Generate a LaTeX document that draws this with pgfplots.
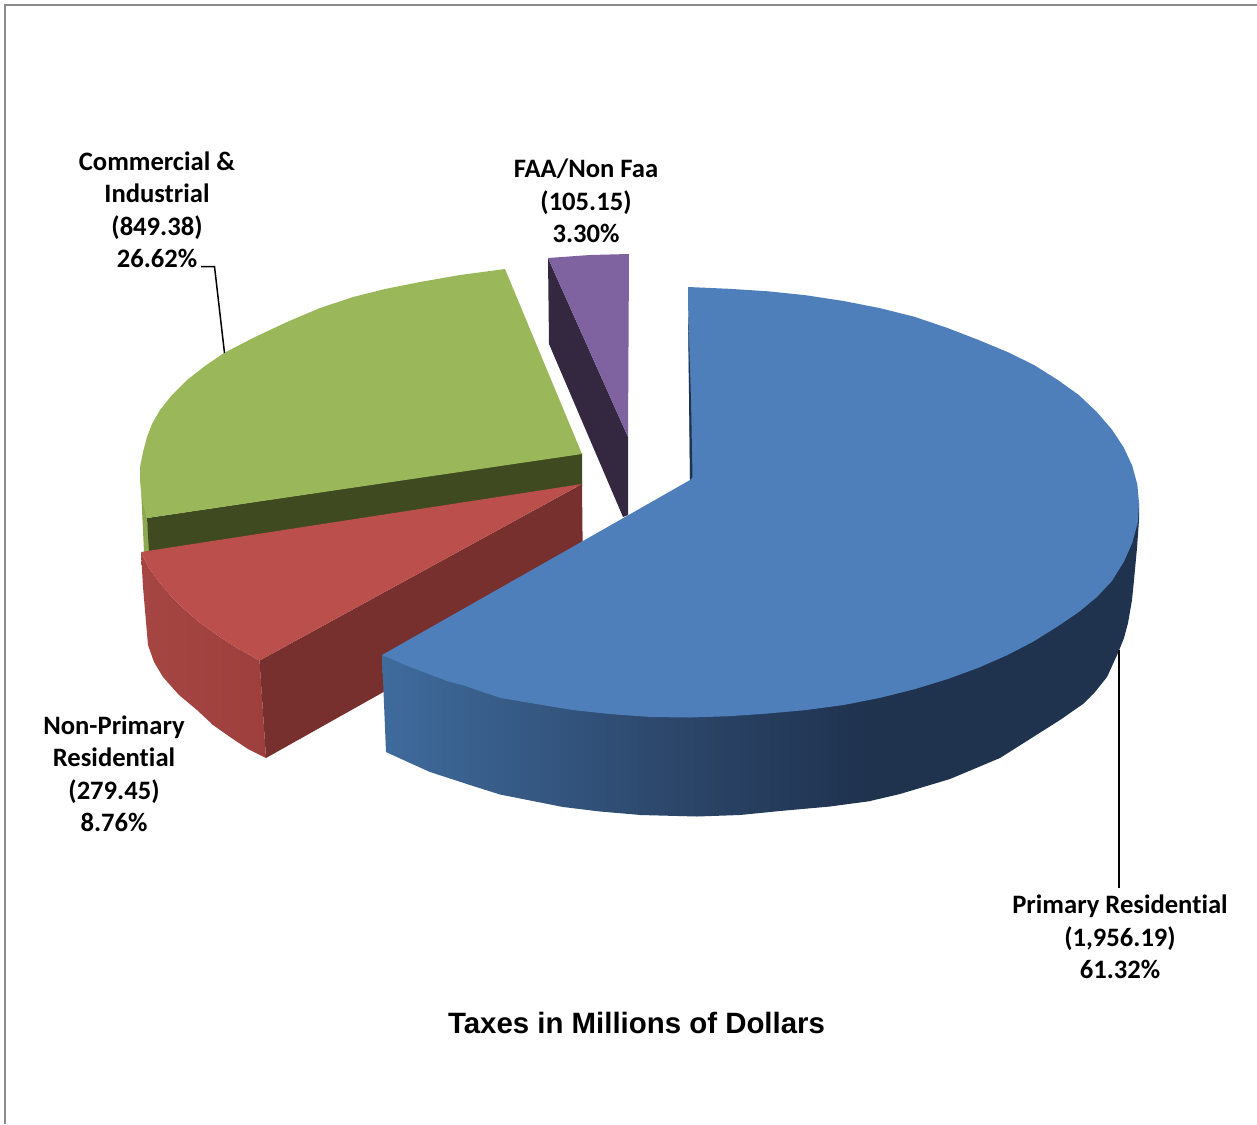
\documentclass[border=0pt]{standalone}
\usepackage{fontspec}
\setmainfont[Ligatures=NoCommon]{Carlito}
\newfontfamily\titlefont{Liberation Sans}
\usepackage{pgfplots}
\pgfplotsset{compat=1.18}
\definecolor{bluetop}{HTML}{4F7FBA}
\definecolor{bluedark}{HTML}{1F324E}
\definecolor{bluemid}{HTML}{2E4A6F}
\definecolor{blueleft}{HTML}{3F6B9D}
\definecolor{greentop}{HTML}{9AB85A}
\definecolor{greenside}{HTML}{404A20}
\definecolor{greenrim}{HTML}{8CA850}
\definecolor{redtop}{HTML}{BB4F4C}
\definecolor{redin}{HTML}{78302E}
\definecolor{redout}{HTML}{A64643}
\definecolor{redoutb}{HTML}{9E3F3D}
\definecolor{purpletop}{HTML}{7F62A0}
\definecolor{purpleside}{HTML}{33283F}
\definecolor{framegray}{HTML}{8C8C8C}
\tikzset{lbl/.style={font=\fontsize{13.3}{16.25}\selectfont\bfseries, align=center, inner sep=0pt}}
\begin{document}
\begin{tikzpicture}
\begin{axis}[
  scale only axis, width=628.5pt, height=562pt,
  xmin=0, xmax=1257, ymin=0, ymax=1124, y dir=reverse,
  hide axis, no markers,
]
% keeps the whole page in the bounding box
\addplot[draw=none] coordinates {(0,0) (1257,1124)};
% frame
\addplot[framegray, line width=1pt] coordinates {(4.5,1124) (4.5,5) (1257,5)};
% green slice
\addplot[fill=greenrim, draw=none] coordinates {(140,467) (141,490) (147,518) (150,552) (144,552)} -- cycle;
\addplot[fill=greenside, draw=none] coordinates {(147,518) (582,453) (582,486) (149,552)} -- cycle;
\addplot[fill=greentop, draw=none] coordinates {
  (582,454) (505,269) (460,275) (420,282) (385,289) (353,297) (320,308) (287,322) (255,337)
  (224,353) (205,366) (187,380) (172,395) (160,410) (152,424) (147,437) (143,452) (140,467)
  (140,480) (141,490) (143,504) (147,518)} -- cycle;
% purple slice
\addplot[fill=purpleside, draw=none] coordinates {(548,258) (628,437) (628,515) (623,517) (549,344)} -- cycle;
\addplot[fill=purpletop, draw=none] coordinates {(548,258) (590,255) (629,254) (628,437)} -- cycle;
% red slice
\addplot[left color=redout, right color=redoutb, draw=none] coordinates {
  (141,552) (149,568) (160,583) (171,596) (183,608) (199,622) (217,635) (237,648) (259.5,660.5)
  (266,758) (248,749) (230,737) (213,725) (197,710) (179,695) (163,677) (154,662) (148,645) (143,587)} -- cycle;
\addplot[fill=redin, draw=none] coordinates {(259.5,660.5) (582,484) (583,580) (266,758)} -- cycle;
\addplot[fill=redtop, draw=none] coordinates {
  (141,552) (582,484) (259.5,660.5) (237,648) (217,635) (199,622) (183,608) (171,596) (160,583) (149,568)} -- cycle;
% blue slice, outer wall in three shaded pieces
\addplot[left color=blueleft, right color=bluemid, draw=none] coordinates {
  (382,655) (641,655) (641,815) (600,811.5) (563,807) (500,794.5) (470,785) (430,772) (410,763) (386,752)} -- cycle;
\addplot[left color=bluemid, right color=bluedark, draw=none] coordinates {
  (640,655) (871,655) (871,801) (830,806.5) (780,811) (740,815) (697,816.5) (640,815)} -- cycle;
\addplot[fill=bluedark, draw=none] coordinates {
  (870,600) (1100,500) (1139,503) (1139,520) (1137,548) (1134,580) (1132,600) (1128,623) (1124,638)
  (1118,653) (1107,677) (1095,692) (1083,704) (1060,720) (1030,739) (1000,758) (950,779) (900,794) (870,801)} -- cycle;
\addplot[fill=bluetop, draw=none] coordinates {
  (688,287) (729.1,288.8) (768,291.3) (806.2,295.3) (843.6,301) (879.7,308.1) (914.5,316.8) (947.5,328)
  (978.6,340) (1007.5,352) (1034,365) (1057.8,380) (1078.8,395) (1096.9,412.1) (1111.9,429.5)
  (1123.7,447.4) (1132.2,465.7) (1137.3,484.3) (1139,503) (1138,521.7) (1132.2,543) (1123.7,562)
  (1111.9,581) (1096.9,597) (1078.8,612) (1057.8,626.3) (1034,641.2) (1007.5,655) (978.6,667.7)
  (947.5,679.1) (914.5,689.2) (879.7,697.9) (843.6,705) (806.2,710) (768,713.5) (729.1,716.2) (690,717.5)
  (650.9,717) (612,714.2) (573.8,710.2) (536.4,704) (500.3,697.9) (465.5,686) (447,681) (430,674.5) (405,665)
  (382,655) (583,541) (690,480)} -- cycle;
\addplot[fill=bluedark, draw=none] coordinates {(688,310) (691,400) (692.5,477) (690,480)} -- cycle;
% leader lines
\addplot[black, line width=0.75pt] coordinates {(201,266.5) (214.5,266.5) (224.5,353)};
\addplot[black, line width=0.75pt] coordinates {(1119,650) (1119,888)};
% labels
\node[lbl] at (axis cs:157,210) {Commercial \&\\Industrial\\(849.38)\\26.62\%};
\node[lbl] at (axis cs:586,201) {FAA/Non Faa\\(105.15)\\3.30\%};
\node[lbl] at (axis cs:114,774) {Non-Primary\\Residential\\(279.45)\\8.76\%};
\node[lbl] at (axis cs:1120,937) {Primary Residential\\(1,956.19)\\61.32\%};
\node[font=\titlefont\fontsize{14.7}{17}\selectfont\bfseries, inner sep=0pt] at (axis cs:636.5,1023) {Taxes in Millions of Dollars};
\end{axis}
\end{tikzpicture}
\end{document}
